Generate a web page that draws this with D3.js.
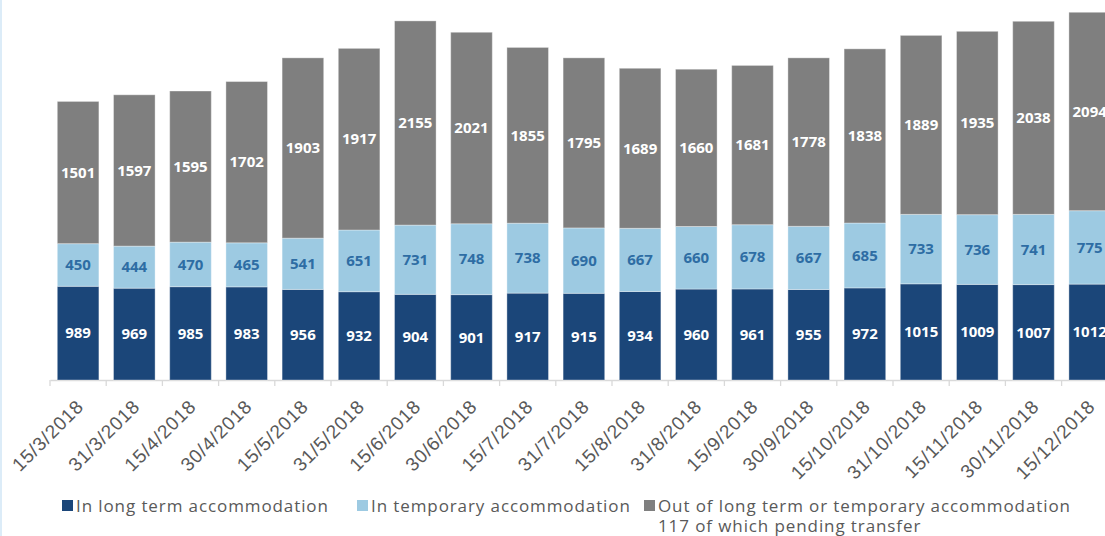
<!DOCTYPE html>
<html>
<head>
<meta charset="utf-8">
<script src="https://cdn.jsdelivr.net/npm/d3@7"></script>
<style>
  html, body { margin: 0; padding: 0; background: #fff; }
  body { width: 1105px; height: 536px; overflow: hidden; border-left: 2px solid #dcecf8; box-sizing: border-box; }
  svg { display: block; font-family: "Open Sans", "Noto Sans", sans-serif; }
</style>
</head>
<body>
<div id="chart"></div>
<script>
const dates = ["15/3/2018", "31/3/2018", "15/4/2018", "30/4/2018", "15/5/2018", "31/5/2018",
  "15/6/2018", "30/6/2018", "15/7/2018", "31/7/2018", "15/8/2018", "31/8/2018", "15/9/2018",
  "30/9/2018", "15/10/2018", "31/10/2018", "15/11/2018", "30/11/2018", "15/12/2018"];
const longTerm = [989, 969, 985, 983, 956, 932, 904, 901, 917, 915, 934, 960, 961, 955, 972, 1015, 1009, 1007, 1012];
const temporary = [450, 444, 470, 465, 541, 651, 731, 748, 738, 690, 667, 660, 678, 667, 685, 733, 736, 741, 775];
const outside = [1501, 1597, 1595, 1702, 1903, 1917, 2155, 2021, 1855, 1795, 1689, 1660, 1681, 1778, 1838, 1889, 1935, 2038, 2094];
const seriesNames = ["In long term accommodation", "In temporary accommodation", "Out of long term or temporary accommodation"];
const legendNote = "117 of which pending transfer";

const width = 1103, height = 536;
const colors = ["#1b4679", "#9dcae2", "#7f7f7f"];
const labelColors = ["#ffffff", "#2e6da4", "#ffffff"];

const rows = dates.map((d, i) => ({ date: d, a: longTerm[i], b: temporary[i], c: outside[i] }));
const keys = ["a", "b", "c"];
const stacked = d3.stack().keys(keys)(rows);

const svg = d3.select("#chart").append("svg")
  .attr("width", width).attr("height", height);

const x = d3.scaleBand().domain(dates).range([48, 48 + 56.2 * dates.length])
  .paddingInner(0.26).paddingOuter(0.13);
const y = d3.scaleLinear().domain([0, 4000]).range([380, 1]);

// x axis
const axis = d3.axisBottom(x).tickSize(0).tickFormat("");
const gx = svg.append("g").attr("transform", "translate(0,380)").call(axis);
gx.select(".domain").attr("stroke", "#d9d9d9").attr("stroke-width", 1.3);
const step = x.step();
gx.selectAll(".sep").data(d3.range(dates.length + 1)).enter().append("line")
  .attr("x1", i => x.range()[0] + i * step).attr("x2", i => x.range()[0] + i * step)
  .attr("y1", 0).attr("y2", 6).attr("stroke", "#d9d9d9").attr("stroke-width", 1.3);

gx.selectAll(".lbl").data(dates).enter().append("text")
  .attr("transform", d => `translate(${x(d) + x.bandwidth() / 2 + 2},${23}) rotate(-45)`)
  .attr("text-anchor", "end")
  .attr("dy", "0.35em")
  .attr("fill", "#595959")
  .attr("font-size", 19)
  .attr("letter-spacing", 0.8)
  .text(d => d);

// bars
const layer = svg.selectAll(".layer").data(stacked).enter().append("g")
  .attr("fill", (d, i) => colors[i]);
layer.selectAll("rect").data(d => d).enter().append("rect")
  .attr("x", d => x(d.data.date))
  .attr("y", d => y(d[1]))
  .attr("width", x.bandwidth())
  .attr("height", d => y(d[0]) - y(d[1]))
  .attr("stroke", "rgba(255,255,255,0.35)")
  .attr("stroke-width", 1);

// value labels
stacked.forEach((s, i) => {
  svg.append("g").selectAll("text").data(s).enter().append("text")
    .attr("x", d => x(d.data.date) + x.bandwidth() / 2)
    .attr("y", d => (y(d[0]) + y(d[1])) / 2)
    .attr("dy", "0.35em")
    .attr("text-anchor", "middle")
    .attr("font-size", 15)
    .attr("font-weight", "bold")
    .attr("fill", labelColors[i])
    .text(d => d.data[keys[i]]);
});

// legend
const legendX = [60, 355, 642];
const legend = svg.append("g");
seriesNames.forEach((name, i) => {
  legend.append("rect").attr("x", legendX[i]).attr("y", 500).attr("width", 11).attr("height", 11)
    .attr("fill", colors[i]);
  legend.append("text").attr("x", legendX[i] + 14).attr("y", 512)
    .attr("font-size", 17).attr("letter-spacing", 0.9).attr("fill", "#595959").text(name);
});
legend.append("text").attr("x", legendX[2] + 14).attr("y", 532)
  .attr("font-size", 17).attr("letter-spacing", 0.9).attr("fill", "#595959").text(legendNote);
</script>
</body>
</html>
